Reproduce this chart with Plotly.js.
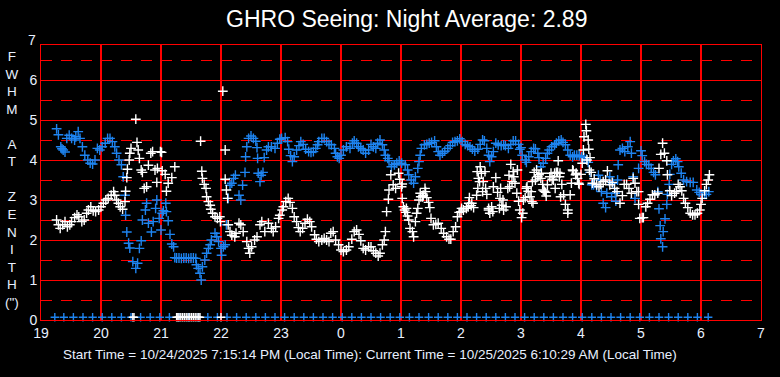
<!DOCTYPE html>
<html>
<head>
<meta charset="utf-8">
<script src="https://cdn.plot.ly/plotly-3.0.1.min.js"></script>
<style>html,body{margin:0;padding:0;background:#000;}#chart{width:780px;height:377px;}</style>
</head>
<body>
<div id="chart"></div>
<script>
// ---- data (decimal hours, 19 = 7 PM, 24 = midnight, 30 = 6 AM) ----
const titleText = "GHRO Seeing: Night Average: 2.89";
const footerText = "Start Time = 10/24/2025 7:15:14 PM (Local Time): Current Time = 10/25/2025 6:10:29 AM (Local Time)";
const yTitleLetters = ["F","W","H","M","","A","T","","Z","E","N","I","T","H","(\")"];
const xTickVals = [19,20,21,22,23,24,25,26,27,28,29,30,31];
const xTickText = ["19","20","21","22","23","0","1","2","3","4","5","6","7"];
const yTickVals = [0,1,2,3,4,5,6];
const yHalfVals = [0.5,1.5,2.5,3.5,4.5,5.5,6.5];

const whiteX = [19.26,19.29,19.32,19.36,19.40,19.44,19.48,19.51,19.56,19.60,19.63,19.68,19.72,19.76,19.79,19.83,19.87,19.91,19.96,20.00,20.04,20.08,20.12,20.17,20.21,20.23,20.26,20.29,20.32,20.36,
20.40,20.41,20.43,20.44,20.47,20.48,20.50,20.58,20.60,20.62,20.64,20.67,20.69,20.72,20.76,20.79,20.83,20.86,20.90,20.93,20.94,20.99,21.01,21.02,21.07,21.09,21.12,21.18,21.23,
21.66,21.68,21.69,21.72,21.75,21.76,21.79,21.82,21.83,21.86,21.90,21.94,21.98,21.99,22.03,22.07,22.07,22.09,22.11,22.12,22.15,22.18,22.23,22.25,22.30,22.33,22.37,22.43,22.46,22.48,22.51,22.56,22.60,22.65,22.68,22.73,22.79,22.84,22.87,22.91,22.96,22.98,23.02,
23.04,23.08,23.12,23.15,23.19,23.22,23.26,23.29,23.32,23.36,23.40,23.44,23.48,23.51,23.56,23.59,23.63,23.68,23.72,23.76,23.80,23.83,23.87,23.91,23.96,24.00,24.04,24.09,24.13,24.18,24.22,24.26,24.30,24.33,24.37,24.41,24.46,24.50,24.54,24.58,24.62,24.65,24.69,24.72,24.74,24.76,24.79,24.80,24.83,24.87,24.91,24.96,24.98,25.01,25.02,25.04,
25.08,25.11,25.13,25.15,25.19,25.21,25.24,25.26,25.28,25.30,25.33,25.37,25.40,25.43,25.46,25.48,25.50,25.54,25.58,25.62,25.67,25.71,25.76,25.80,25.83,25.87,25.91,25.94,25.97,26.00,26.04,26.09,26.13,26.17,26.21,26.26,26.28,26.29,26.32,26.34,26.37,26.41,26.43,26.46,26.48,26.51,26.54,26.58,26.61,26.65,26.68,26.71,26.75,26.78,26.80,26.83,26.87,26.90,26.93,26.96,26.98,27.01,
25.32,25.36,25.41,25.06,25.09,25.02,26.01,26.12,26.18,26.14,26.27,26.31,26.36,26.40,26.46,26.53,26.64,26.66,26.70,26.81,26.85,26.88,26.94,27.03,
27.04,27.07,27.09,27.12,27.15,27.18,27.19,27.22,27.26,27.30,27.33,27.36,27.39,27.41,27.44,27.48,27.52,27.56,27.59,27.62,27.65,27.68,27.71,27.74,27.78,27.82,27.84,27.87,27.91,27.94,27.97,28.00,28.02,28.04,28.05,28.08,28.09,28.12,28.13,28.15,28.17,28.19,28.22,28.26,28.30,28.33,28.37,28.41,28.44,28.48,28.52,28.56,28.60,28.65,28.69,28.72,28.76,28.80,28.84,28.87,28.90,28.93,28.96,28.98,29.02,
27.10,27.17,27.20,27.24,27.28,27.34,27.37,27.42,27.50,27.54,27.57,27.61,27.64,27.66,27.78,27.86,27.92,27.96,28.10,28.14,
28.96,29.04,29.08,29.11,29.15,29.19,29.23,29.28,29.30,29.33,29.36,29.39,29.43,29.44,29.48,29.51,29.56,29.59,29.62,29.65,29.68,29.71,29.74,29.78,29.82,29.86,29.90,29.94,29.98,30.00,30.02,30.06,30.09,30.12,30.14];
const whiteY = [2.50,2.38,2.29,2.38,2.46,2.33,2.38,2.46,2.56,2.63,2.58,2.46,2.50,2.67,2.75,2.83,2.73,2.71,2.75,2.83,2.92,3.00,3.04,3.12,3.21,3.12,3.00,2.92,2.83,2.77,
2.96,3.22,3.56,3.77,4.00,4.17,4.29,5.02,4.44,4.25,4.04,3.75,3.69,3.29,3.33,3.87,4.17,4.21,3.75,3.44,3.79,4.21,4.19,3.73,3.64,3.22,3.42,3.56,3.83,
4.47,3.72,3.54,3.39,3.29,3.08,2.96,2.87,2.77,2.67,2.58,2.54,2.58,2.46,5.72,4.25,3.52,3.25,3.04,2.38,2.21,2.12,2.08,2.17,2.42,2.38,2.21,1.96,1.79,1.67,1.83,2.00,2.08,2.38,2.46,2.21,2.42,2.29,2.21,2.33,2.54,2.62,2.75,
2.83,2.96,3.04,2.94,2.79,2.58,2.46,2.31,2.21,2.29,2.42,2.52,2.46,2.33,2.13,2.02,1.96,2.00,2.04,2.00,1.96,2.17,2.21,2.00,1.88,1.75,1.71,1.75,1.83,2.02,2.21,2.25,2.14,1.98,1.79,1.75,1.83,1.83,1.73,1.67,1.60,1.67,1.88,2.00,2.21,2.71,3.02,3.25,3.63,3.38,3.29,3.67,3.52,3.33,3.04,2.83,
2.69,2.60,2.50,2.29,2.21,2.08,2.46,2.67,2.79,3.00,3.08,3.12,3.29,3.06,2.94,2.81,2.54,2.38,2.39,2.42,2.29,2.17,2.08,2.02,2.02,2.21,2.33,2.58,2.69,2.71,2.75,2.79,2.92,2.86,2.81,3.12,3.29,3.54,3.83,3.67,3.46,3.29,3.14,2.79,2.67,2.83,3.33,3.56,3.19,3.04,2.87,2.75,2.83,3.29,3.62,3.89,3.71,3.42,3.17,2.97,2.75,2.56,
3.17,3.08,3.21,2.75,2.79,3.40,2.79,2.83,2.92,3.06,3.71,3.46,3.21,3.71,2.75,2.71,2.79,3.29,3.00,3.33,3.46,3.58,3.75,2.67,
3.00,3.06,3.29,3.22,3.08,2.96,3.46,3.69,3.75,3.63,3.54,3.39,3.22,3.19,3.38,3.58,3.52,3.67,3.69,3.98,3.67,3.39,3.13,2.89,2.67,3.13,3.42,3.73,3.63,3.54,3.39,3.64,3.92,4.25,4.58,4.89,4.73,4.50,4.27,4.06,3.69,3.42,3.53,3.38,3.33,3.39,3.46,3.50,3.73,3.38,3.44,3.29,3.21,2.92,3.11,3.39,3.39,3.29,3.17,3.54,3.42,3.21,2.89,2.54,2.56,
3.33,3.21,2.92,3.50,3.58,3.67,3.25,3.10,3.67,3.50,3.29,3.69,3.58,3.08,2.75,3.75,3.67,3.42,4.00,3.75,
3.21,2.56,2.83,2.92,3.02,3.13,3.13,3.17,3.79,4.14,4.42,4.17,3.98,3.63,3.23,3.11,3.17,3.21,3.39,3.33,3.23,3.04,2.92,2.81,2.67,2.63,2.63,2.67,2.75,2.89,3.04,3.23,3.39,3.50,3.63];

const blueX = [19.26,19.29,19.33,19.35,19.37,19.40,19.43,19.47,19.51,19.56,19.58,19.62,19.65,19.69,19.73,19.78,19.82,19.86,19.90,19.94,19.98,20.02,20.07,20.11,20.15,20.19,20.23,20.26,20.30,20.34,
20.37,20.40,20.41,20.43,20.46,20.48,20.53,20.58,20.61,20.64,20.67,20.69,20.74,20.76,20.79,20.84,20.87,20.91,20.93,20.97,21.00,21.02,21.04,21.08,21.09,21.12,21.15,21.18,21.21,
21.23,21.26,21.30,21.34,21.38,21.42,21.46,21.50,21.54,21.58,21.59,21.62,21.65,21.67,21.69,21.73,21.76,21.79,21.82,21.84,21.90,21.93,21.96,22.00,22.01,22.04,22.07,
22.09,22.12,22.15,22.18,22.21,22.24,22.30,22.33,22.36,22.40,22.41,22.43,22.46,22.50,22.54,22.58,22.60,22.61,22.62,22.65,22.67,22.70,22.72,22.76,22.79,22.84,22.90,22.94,22.98,
23.01,23.07,23.11,23.13,23.16,23.19,23.22,23.26,23.30,23.33,23.37,23.41,23.46,23.50,23.54,23.58,23.61,23.63,23.68,23.72,23.76,23.80,23.84,23.89,23.91,23.94,23.97,24.00,24.04,24.09,24.15,24.19,24.22,24.26,24.29,24.33,24.37,24.41,24.46,24.50,24.54,24.58,24.61,24.65,24.69,24.72,24.74,24.78,24.80,24.84,24.89,24.93,24.97,
25.01,25.07,25.11,25.13,25.17,25.21,25.24,25.28,25.30,25.32,25.34,25.39,25.43,25.47,25.51,25.56,25.59,25.62,25.65,25.69,25.73,25.78,25.82,25.86,25.90,25.94,25.98,26.02,26.07,26.11,26.15,26.19,26.23,26.28,26.32,26.36,26.39,26.43,26.46,26.48,26.51,26.54,26.58,26.62,26.67,26.71,26.74,26.79,26.83,26.87,26.91,26.96,26.98,
27.00,27.02,27.07,27.09,27.13,27.17,27.21,27.24,27.28,27.30,27.33,27.37,27.41,27.44,27.47,27.51,27.56,27.59,27.63,27.67,27.70,27.74,27.78,27.82,27.86,27.89,27.93,27.97,28.01,28.05,28.09,28.12,
28.15,28.18,28.21,28.26,28.29,28.32,28.34,28.37,28.41,28.43,28.47,28.48,28.51,28.53,28.57,28.58,28.61,28.62,28.65,28.69,28.73,28.78,28.82,28.84,28.87,28.90,28.96,
29.00,29.02,29.06,29.09,29.13,29.17,29.21,29.24,29.28,29.30,29.32,29.33,29.36,29.37,29.40,29.43,29.44,29.47,29.48,29.51,29.54,29.58,29.61,29.63,29.67,29.71,29.76,29.82,29.87,29.93,29.97,30.01,30.06,30.09,30.13];
const blueY = [4.78,4.63,4.33,4.28,4.25,4.20,4.54,4.62,4.54,4.50,4.58,4.71,4.54,4.33,4.12,4.00,3.92,3.90,4.00,4.29,4.25,4.33,4.42,4.54,4.54,4.46,4.33,4.17,4.00,3.88,
3.58,3.12,2.62,2.20,1.92,1.80,1.46,1.29,1.42,1.79,1.98,2.50,2.75,2.92,2.42,2.20,2.46,2.79,3.00,2.54,2.25,2.67,2.73,2.92,2.71,2.48,2.14,1.90,1.83,
1.56,1.55,1.55,1.54,1.55,1.55,1.54,1.55,1.55,1.54,1.38,1.29,1.17,1.00,1.33,1.50,1.67,1.79,1.88,2.00,2.17,2.08,1.96,1.79,1.62,1.83,1.88,
2.38,3.04,3.37,3.42,3.54,3.62,3.12,3.00,3.37,3.69,4.08,4.33,4.54,4.60,4.54,4.47,4.31,4.04,3.67,3.46,3.62,3.69,4.06,4.25,4.33,4.33,4.29,4.42,4.52,
4.54,4.56,4.46,4.27,4.11,3.96,4.08,4.25,4.36,4.46,4.39,4.27,4.21,4.19,4.21,4.29,4.38,4.46,4.54,4.54,4.46,4.39,4.38,4.29,4.17,4.08,4.04,4.12,4.25,4.33,4.29,4.42,4.48,4.42,4.33,4.29,4.25,4.17,4.25,4.39,4.33,4.29,4.42,4.50,4.38,4.25,4.12,4.04,3.98,3.83,3.88,3.92,3.98,
3.92,3.88,3.75,3.63,3.50,3.42,3.58,3.79,3.96,4.12,4.29,4.38,4.39,4.42,4.44,4.48,4.33,4.21,4.12,4.17,4.22,4.29,4.36,4.44,4.46,4.48,4.53,4.46,4.39,4.36,4.33,4.27,4.22,4.27,4.39,4.50,4.48,4.29,4.12,3.96,4.08,4.21,4.42,4.38,4.36,4.38,4.36,4.29,4.39,4.48,4.48,4.39,4.27,
4.31,4.12,4.00,3.94,4.08,4.21,4.29,4.28,4.17,4.06,3.83,3.92,4.04,4.17,4.25,4.33,4.38,4.42,4.48,4.50,4.44,4.38,4.25,4.12,4.08,4.12,4.12,4.11,4.08,4.06,4.02,3.94,
3.69,3.38,3.38,3.33,3.62,3.50,3.21,2.92,2.81,3.17,3.46,3.58,3.08,3.42,3.17,2.97,3.50,3.88,4.25,4.29,4.21,4.33,4.46,4.17,3.58,3.04,3.79,
4.23,4.11,3.96,3.89,3.88,3.79,3.69,3.63,3.21,2.78,2.36,2.03,1.83,2.21,2.53,2.89,3.14,3.39,3.64,3.89,3.98,4.03,3.96,3.83,3.67,3.50,3.46,3.44,3.44,3.25,3.19,3.13,3.14,3.14,3.21];

const blueBaseX = [19.23,19.38,19.54,19.70,19.86,20.02,20.18,20.34,20.50,20.66,20.82,20.98,21.14,21.30,21.46,21.62,21.78,21.94,22.10,22.26,22.42,22.58,22.74,22.90,23.06,23.22,23.38,23.54,23.70,23.86,24.02,24.18,24.34,24.50,24.66,24.82,24.98,25.14,25.30,25.46,25.62,25.78,25.94,26.10,26.26,26.42,26.58,26.74,26.90,27.06,27.22,27.38,27.54,27.70,27.86,28.02,28.18,28.34,28.50,28.66,28.82,28.98,29.14,29.30,29.46,29.62,29.78,29.94,30.12];
const blueBaseY = [0.07,0.07,0.07,0.07,0.07,0.07,0.07,0.07,0.07,0.07,0.07,0.07,0.07,0.07,0.07,0.07,0.07,0.07,0.07,0.07,0.07,0.07,0.07,0.07,0.07,0.07,0.07,0.07,0.07,0.07,0.07,0.07,0.07,0.07,0.07,0.07,0.07,0.07,0.07,0.07,0.07,0.07,0.07,0.07,0.07,0.07,0.07,0.07,0.07,0.07,0.07,0.07,0.07,0.07,0.07,0.07,0.07,0.07,0.07,0.07,0.07,0.07,0.07,0.07,0.07,0.07,0.07,0.07,0.07];
const whiteBaseX = [20.53,20.55,21.26,21.28,21.30,21.33,21.36,21.39,21.42,21.45,21.48,21.51,21.54,21.57,21.60,21.63,21.65,22.00];
const whiteBaseY = [0.07,0.07,0.07,0.07,0.07,0.07,0.07,0.07,0.07,0.07,0.07,0.07,0.07,0.07,0.07,0.07,0.07,0.07];

// ---- styles ----
const FONT = "'Liberation Sans', Arial, sans-serif";
const LABEL = "#e8f0ff";
const BLUE = "#1e84f0";
const mk = (c, s) => ({symbol: "cross-thin", size: s, color: c, line: {color: c, width: 1.4}});

const traces = [
  {x: blueX, y: blueY, type: "scatter", mode: "markers", marker: mk(BLUE, 7), hoverinfo: "skip"},
  {x: blueBaseX, y: blueBaseY, type: "scatter", mode: "markers", marker: mk(BLUE, 6), cliponaxis: false, hoverinfo: "skip"},
  {x: whiteX, y: whiteY, type: "scatter", mode: "markers", marker: mk("#ffffff", 7), hoverinfo: "skip"},
  {x: whiteBaseX, y: whiteBaseY, type: "scatter", mode: "markers", marker: mk("#ffffff", 6), cliponaxis: false, hoverinfo: "skip"}
];

const layout = {
  width: 780, height: 377,
  margin: {l: 41, r: 19, t: 45, b: 57, pad: 0},
  paper_bgcolor: "#000", plot_bgcolor: "#000",
  showlegend: false,
  font: {family: FONT, color: LABEL, size: 14},
  title: {text: titleText, font: {family: FONT, size: 23, color: "#ffffff"},
          x: 0.508, xref: "paper", xanchor: "center", y: 0.95, yref: "container", yanchor: "middle"},
  xaxis: {
    range: [19, 31], tickmode: "array", tickvals: xTickVals, ticktext: xTickText,
    showgrid: true, gridcolor: "#ff0000", gridwidth: 2,
    showline: true, linecolor: "#ff0000", linewidth: 1, mirror: true,
    zeroline: false, ticks: "", tickfont: {family: FONT, size: 14, color: LABEL}
  },
  yaxis: {
    range: [0, 6.875], tickmode: "array", tickvals: yTickVals,
    showgrid: true, gridcolor: "#ff0000", gridwidth: 1,
    minor: {tickmode: "array", tickvals: yHalfVals, showgrid: true, gridcolor: "#ff0000", gridwidth: 1, griddash: "11px,9px", ticks: ""},
    showline: true, linecolor: "#ff0000", linewidth: 1, mirror: true,
    zeroline: false, ticks: "", tickfont: {family: FONT, size: 14, color: LABEL}
  },
  annotations: [
    {text: "7", xref: "paper", x: 0, xanchor: "right", xshift: -3, yref: "paper", y: 1 + 5/275, yanchor: "middle",
     showarrow: false, font: {family: FONT, size: 14, color: LABEL}},
    {text: yTitleLetters.join("<br>"), xref: "paper", x: -0.0403, xanchor: "center", yref: "paper", y: 0.511, yanchor: "middle",
     showarrow: false, align: "center", font: {family: FONT, size: 13.5, color: LABEL}},
    {text: footerText, xref: "paper", x: 0.457, xanchor: "center", yref: "paper", y: -0.127, yanchor: "middle",
     showarrow: false, font: {family: FONT, size: 13.5, color: LABEL}}
  ]
};

Plotly.newPlot("chart", traces, layout, {staticPlot: true, displayModeBar: false});
</script>
</body>
</html>
